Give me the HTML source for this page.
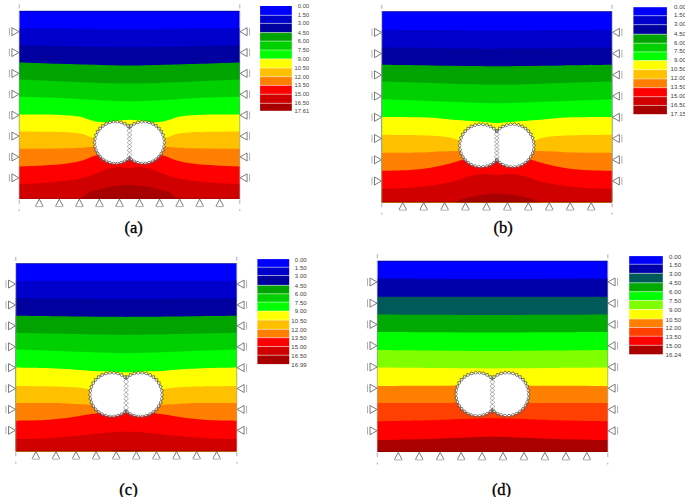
<!DOCTYPE html>
<html><head><meta charset="utf-8"><style>
html,body{margin:0;padding:0;background:#fff;}
svg{display:block;}
.lb{font-family:"Liberation Sans",sans-serif;font-size:5.8px;fill:#404040;letter-spacing:0.1px;}
.cap{font-family:"Liberation Serif",serif;font-size:16.5px;fill:#000;stroke:#000;stroke-width:0.35px;}
</style></head><body>
<svg width="685" height="497" viewBox="0 0 685 497">
<rect width="685" height="497" fill="#fff"/>
<clipPath id="clip0"><rect x="19.20" y="10.80" width="220.60" height="187.90"/></clipPath>
<g clip-path="url(#clip0)">
<rect x="19.20" y="10.80" width="220.60" height="187.90" fill="#0000ff"/>
<path d="M14.20,28.20 C15.00,28.20 11.37,28.15 19.00,28.20 C26.63,28.25 46.50,28.38 60.00,28.50 C73.50,28.62 88.42,28.82 100.00,28.90 C111.58,28.98 119.67,29.00 129.50,29.00 C139.33,29.00 147.42,28.98 159.00,28.90 C170.58,28.82 185.50,28.62 199.00,28.50 C212.50,28.38 232.37,28.25 240.00,28.20 C247.63,28.15 244.00,28.20 244.80,28.20 L244.80,208.70 L14.20,208.70 Z" fill="#0000cc"/>
<path d="M14.20,45.30 C15.00,45.30 11.37,45.15 19.00,45.30 C26.63,45.45 46.50,45.92 60.00,46.20 C73.50,46.48 88.42,46.82 100.00,47.00 C111.58,47.18 119.67,47.30 129.50,47.30 C139.33,47.30 147.42,47.18 159.00,47.00 C170.58,46.82 185.50,46.48 199.00,46.20 C212.50,45.92 232.37,45.45 240.00,45.30 C247.63,45.15 244.00,45.30 244.80,45.30 L244.80,208.70 L14.20,208.70 Z" fill="#00009e"/>
<path d="M14.20,62.40 C15.00,62.40 11.37,62.18 19.00,62.40 C26.63,62.62 46.50,63.28 60.00,63.70 C73.50,64.12 88.42,64.62 100.00,64.90 C111.58,65.18 119.67,65.40 129.50,65.40 C139.33,65.40 147.42,65.18 159.00,64.90 C170.58,64.62 185.50,64.12 199.00,63.70 C212.50,63.28 232.37,62.62 240.00,62.40 C247.63,62.18 244.00,62.40 244.80,62.40 L244.80,208.70 L14.20,208.70 Z" fill="#00a400"/>
<path d="M14.20,79.50 C15.00,79.50 11.37,79.20 19.00,79.50 C26.63,79.80 46.50,80.73 60.00,81.30 C73.50,81.87 88.42,82.53 100.00,82.90 C111.58,83.27 119.67,83.50 129.50,83.50 C139.33,83.50 147.42,83.27 159.00,82.90 C170.58,82.53 185.50,81.87 199.00,81.30 C212.50,80.73 232.37,79.80 240.00,79.50 C247.63,79.20 244.00,79.50 244.80,79.50 L244.80,208.70 L14.20,208.70 Z" fill="#00d000"/>
<path d="M14.20,96.70 C15.00,96.70 11.37,96.48 19.00,96.70 C26.63,96.92 46.50,97.40 60.00,98.00 C73.50,98.60 88.42,99.75 100.00,100.30 C111.58,100.85 119.67,101.30 129.50,101.30 C139.33,101.30 147.42,100.85 159.00,100.30 C170.58,99.75 185.50,98.60 199.00,98.00 C212.50,97.40 232.37,96.92 240.00,96.70 C247.63,96.48 244.00,96.70 244.80,96.70 L244.80,208.70 L14.20,208.70 Z" fill="#00ff00"/>
<path d="M14.20,114.40 C15.00,114.40 13.03,114.37 19.00,114.40 C24.97,114.43 41.50,114.40 50.00,114.60 C58.50,114.80 64.67,115.17 70.00,115.60 C75.33,116.03 78.33,116.38 82.00,117.20 C85.67,118.02 88.50,119.65 92.00,120.50 C95.50,121.35 99.17,122.22 103.00,122.30 C106.83,122.38 111.83,121.33 115.00,121.00 C118.17,120.67 119.58,120.50 122.00,120.30 C124.42,120.10 127.00,119.80 129.50,119.80 C132.00,119.80 134.58,120.10 137.00,120.30 C139.42,120.50 140.83,120.67 144.00,121.00 C147.17,121.33 152.17,122.38 156.00,122.30 C159.83,122.22 163.50,121.35 167.00,120.50 C170.50,119.65 173.33,118.02 177.00,117.20 C180.67,116.38 183.67,116.03 189.00,115.60 C194.33,115.17 200.50,114.80 209.00,114.60 C217.50,114.40 234.03,114.43 240.00,114.40 C245.97,114.37 244.00,114.40 244.80,114.40 L244.80,208.70 L14.20,208.70 Z" fill="#ffff00"/>
<path d="M14.20,131.50 C15.00,131.50 11.37,131.42 19.00,131.50 C26.63,131.58 49.83,131.67 60.00,132.00 C70.17,132.33 74.67,132.58 80.00,133.50 C85.33,134.42 87.00,136.08 92.00,137.50 C97.00,138.92 103.75,141.08 110.00,142.00 C116.25,142.92 123.00,143.00 129.50,143.00 C136.00,143.00 142.75,142.92 149.00,142.00 C155.25,141.08 162.00,138.92 167.00,137.50 C172.00,136.08 173.67,134.42 179.00,133.50 C184.33,132.58 188.83,132.33 199.00,132.00 C209.17,131.67 232.37,131.58 240.00,131.50 C247.63,131.42 244.00,131.50 244.80,131.50 L244.80,208.70 L14.20,208.70 Z" fill="#ffc000"/>
<path d="M14.20,148.80 C15.00,148.80 11.37,148.85 19.00,148.80 C26.63,148.75 49.83,148.67 60.00,148.50 C70.17,148.33 74.33,148.05 80.00,147.80 C85.67,147.55 89.00,146.63 94.00,147.00 C99.00,147.37 104.08,149.17 110.00,150.00 C115.92,150.83 123.00,152.00 129.50,152.00 C136.00,152.00 143.08,150.83 149.00,150.00 C154.92,149.17 160.00,147.37 165.00,147.00 C170.00,146.63 173.33,147.55 179.00,147.80 C184.67,148.05 188.83,148.33 199.00,148.50 C209.17,148.67 232.37,148.75 240.00,148.80 C247.63,148.85 244.00,148.80 244.80,148.80 L244.80,208.70 L14.20,208.70 Z" fill="#ff8000"/>
<path d="M14.20,166.40 C15.00,166.40 14.20,166.57 19.00,166.40 C23.80,166.23 35.00,165.90 43.00,165.40 C51.00,164.90 60.17,164.32 67.00,163.40 C73.83,162.48 79.33,161.17 84.00,159.90 C88.67,158.63 90.67,156.62 95.00,155.80 C99.33,154.98 104.25,155.13 110.00,155.00 C115.75,154.87 123.00,155.00 129.50,155.00 C136.00,155.00 143.25,154.87 149.00,155.00 C154.75,155.13 159.67,154.98 164.00,155.80 C168.33,156.62 170.33,158.63 175.00,159.90 C179.67,161.17 185.17,162.48 192.00,163.40 C198.83,164.32 208.00,164.90 216.00,165.40 C224.00,165.90 235.20,166.23 240.00,166.40 C244.80,166.57 244.00,166.40 244.80,166.40 L244.80,208.70 L14.20,208.70 Z" fill="#ff0000"/>
<path d="M14.20,184.00 C15.00,184.00 14.20,184.17 19.00,184.00 C23.80,183.83 35.00,183.60 43.00,183.00 C51.00,182.40 60.17,181.33 67.00,180.40 C73.83,179.47 78.50,178.80 84.00,177.40 C89.50,176.00 96.08,173.45 100.00,172.00 C103.92,170.55 104.33,169.55 107.50,168.70 C110.67,167.85 115.33,167.02 119.00,166.90 C122.67,166.78 126.00,168.00 129.50,168.00 C133.00,168.00 136.33,166.78 140.00,166.90 C143.67,167.02 148.33,167.85 151.50,168.70 C154.67,169.55 155.08,170.55 159.00,172.00 C162.92,173.45 169.50,176.00 175.00,177.40 C180.50,178.80 185.17,179.47 192.00,180.40 C198.83,181.33 208.00,182.40 216.00,183.00 C224.00,183.60 235.20,183.83 240.00,184.00 C244.80,184.17 244.00,184.00 244.80,184.00 L244.80,208.70 L14.20,208.70 Z" fill="#d00000"/>
<path d="M14.20,203.00 C15.00,203.00 9.70,203.17 19.00,203.00 C28.30,202.83 59.83,202.72 70.00,202.00 C80.17,201.28 77.50,199.70 80.00,198.70 C82.50,197.70 83.33,197.12 85.00,196.00 C86.67,194.88 87.50,193.08 90.00,192.00 C92.50,190.92 96.67,190.33 100.00,189.50 C103.33,188.67 105.08,187.75 110.00,187.00 C114.92,186.25 123.00,185.00 129.50,185.00 C136.00,185.00 144.08,186.25 149.00,187.00 C153.92,187.75 155.67,188.67 159.00,189.50 C162.33,190.33 166.50,190.92 169.00,192.00 C171.50,193.08 172.33,194.88 174.00,196.00 C175.67,197.12 176.50,197.70 179.00,198.70 C181.50,199.70 178.83,201.28 189.00,202.00 C199.17,202.72 230.70,202.83 240.00,203.00 C249.30,203.17 244.00,203.00 244.80,203.00 L244.80,208.70 L14.20,208.70 Z" fill="#a80000"/>
</g>
<g>
<circle cx="115.50" cy="142.60" r="21.20" fill="#fff"/>
<circle cx="143.50" cy="142.60" r="21.20" fill="#fff"/>
<path d="M138.20,142.60 L134.47,146.15 L136.67,150.80 L131.91,152.76 L132.28,157.89 L127.13,158.00 L125.62,162.92 L120.78,161.16 L117.59,165.20 L113.72,161.82 L109.29,164.43 L106.90,159.88 L101.82,160.71 L101.24,155.60 L96.20,154.55 L97.50,149.57 L93.19,146.77 L96.20,142.60 L93.19,138.43 L97.50,135.63 L96.20,130.65 L101.24,129.60 L101.82,124.49 L106.90,125.32 L109.29,120.77 L113.72,123.38 L117.59,120.00 L120.78,124.04 L125.62,122.28 L127.13,127.20 L132.28,127.31 L131.91,132.44 L136.67,134.40 L134.47,139.05 L138.20,142.60" fill="none" stroke="#5e5e5e" stroke-width="0.8"/>
<path d="M134.80,142.60 L137.81,146.77 L133.50,149.57 L134.80,154.55 L129.76,155.60 L129.18,160.71 L124.10,159.88 L121.71,164.43 L117.28,161.82 L113.41,165.20 L110.22,161.16 L105.38,162.92 L103.87,158.00 L98.72,157.89 L99.09,152.76 L94.33,150.80 L96.53,146.15 L92.80,142.60 L96.53,139.05 L94.33,134.40 L99.09,132.44 L98.72,127.31 L103.87,127.20 L105.38,122.28 L110.22,124.04 L113.41,120.00 L117.28,123.38 L121.71,120.77 L124.10,125.32 L129.18,124.49 L129.76,129.60 L134.80,130.65 L133.50,135.63 L137.81,138.43 L134.80,142.60" fill="none" stroke="#5e5e5e" stroke-width="0.8"/>
<path d="M166.20,142.60 L162.47,146.15 L164.67,150.80 L159.91,152.76 L160.28,157.89 L155.13,158.00 L153.62,162.92 L148.78,161.16 L145.59,165.20 L141.72,161.82 L137.29,164.43 L134.90,159.88 L129.82,160.71 L129.24,155.60 L124.20,154.55 L125.50,149.57 L121.19,146.77 L124.20,142.60 L121.19,138.43 L125.50,135.63 L124.20,130.65 L129.24,129.60 L129.82,124.49 L134.90,125.32 L137.29,120.77 L141.72,123.38 L145.59,120.00 L148.78,124.04 L153.62,122.28 L155.13,127.20 L160.28,127.31 L159.91,132.44 L164.67,134.40 L162.47,139.05 L166.20,142.60" fill="none" stroke="#5e5e5e" stroke-width="0.8"/>
<path d="M162.80,142.60 L165.81,146.77 L161.50,149.57 L162.80,154.55 L157.76,155.60 L157.18,160.71 L152.10,159.88 L149.71,164.43 L145.28,161.82 L141.41,165.20 L138.22,161.16 L133.38,162.92 L131.87,158.00 L126.72,157.89 L127.09,152.76 L122.33,150.80 L124.53,146.15 L120.80,142.60 L124.53,139.05 L122.33,134.40 L127.09,132.44 L126.72,127.31 L131.87,127.20 L133.38,122.28 L138.22,124.04 L141.41,120.00 L145.28,123.38 L149.71,120.77 L152.10,125.32 L157.18,124.49 L157.76,129.60 L162.80,130.65 L161.50,135.63 L165.81,138.43 L162.80,142.60" fill="none" stroke="#5e5e5e" stroke-width="0.8"/>
<circle cx="115.50" cy="142.60" r="19.00" fill="#fff"/>
<circle cx="143.50" cy="142.60" r="19.00" fill="#fff"/>
<path d="M129.50,126.95 L131.90,130.86 L127.10,134.77 L131.90,138.69 L127.10,142.60 L131.90,146.51 L127.10,150.43 L131.90,154.34 L129.50,158.25" fill="none" stroke="#808080" stroke-width="0.6"/>
<path d="M129.50,126.95 L127.10,130.86 L131.90,134.77 L127.10,138.69 L131.90,142.60 L127.10,146.51 L131.90,150.43 L127.10,154.34 L129.50,158.25" fill="none" stroke="#808080" stroke-width="0.6"/>
</g>
<path d="M18.90,31.68 L11.90,27.68 L11.90,35.68 Z M240.10,31.68 L247.10,27.68 L247.10,35.68 Z M18.90,52.56 L11.90,48.56 L11.90,56.56 Z M240.10,52.56 L247.10,48.56 L247.10,56.56 Z M18.90,73.43 L11.90,69.43 L11.90,77.43 Z M240.10,73.43 L247.10,69.43 L247.10,77.43 Z M18.90,94.31 L11.90,90.31 L11.90,98.31 Z M240.10,94.31 L247.10,90.31 L247.10,98.31 Z M18.90,115.19 L11.90,111.19 L11.90,119.19 Z M240.10,115.19 L247.10,111.19 L247.10,119.19 Z M18.90,136.07 L11.90,132.07 L11.90,140.07 Z M240.10,136.07 L247.10,132.07 L247.10,140.07 Z M18.90,156.94 L11.90,152.94 L11.90,160.94 Z M240.10,156.94 L247.10,152.94 L247.10,160.94 Z M18.90,177.82 L11.90,173.82 L11.90,181.82 Z M240.10,177.82 L247.10,173.82 L247.10,181.82 Z M35.45,206.20 L39.25,199.10 M39.25,199.10 L43.05,206.20 M55.51,206.20 L59.31,199.10 M59.31,199.10 L63.11,206.20 M75.56,206.20 L79.36,199.10 M79.36,199.10 L83.16,206.20 M95.62,206.20 L99.42,199.10 M99.42,199.10 L103.22,206.20 M115.67,206.20 L119.47,199.10 M119.47,199.10 L123.27,206.20 M135.73,206.20 L139.53,199.10 M139.53,199.10 L143.33,206.20 M155.78,206.20 L159.58,199.10 M159.58,199.10 L163.38,206.20 M175.84,206.20 L179.64,199.10 M179.64,199.10 L183.44,206.20 M195.89,206.20 L199.69,199.10 M199.69,199.10 L203.49,206.20 M215.95,206.20 L219.75,199.10 M219.75,199.10 L223.55,206.20" fill="#fff" stroke="#5a5a5a" stroke-width="0.8"/>
<path d="M9.40,27.88 L9.40,35.48 M249.60,27.88 L249.60,35.48 M9.40,48.76 L9.40,56.36 M249.60,48.76 L249.60,56.36 M9.40,69.63 L9.40,77.23 M249.60,69.63 L249.60,77.23 M9.40,90.51 L9.40,98.11 M249.60,90.51 L249.60,98.11 M9.40,111.39 L9.40,118.99 M249.60,111.39 L249.60,118.99 M9.40,132.27 L9.40,139.87 M249.60,132.27 L249.60,139.87 M9.40,153.14 L9.40,160.74 M249.60,153.14 L249.60,160.74 M9.40,174.02 L9.40,181.62 M249.60,174.02 L249.60,181.62 M35.45,206.60 L43.05,206.60 M55.51,206.60 L63.11,206.60 M75.56,206.60 L83.16,206.60 M95.62,206.60 L103.22,206.60 M115.67,206.60 L123.27,206.60 M135.73,206.60 L143.33,206.60 M155.78,206.60 L163.38,206.60 M175.84,206.60 L183.44,206.60 M195.89,206.60 L203.49,206.60 M215.95,206.60 L223.55,206.60" fill="none" stroke="#a0a0a0" stroke-width="0.85"/>
<path d="M19.20,4.40 L19.20,8.40 M19.20,199.70 L19.20,203.70 M19.20,209.20 L19.20,211.20 M239.80,4.40 L239.80,8.40 M239.80,199.70 L239.80,203.70 M239.80,209.20 L239.80,211.20" fill="none" stroke="#999999" stroke-width="0.8"/>
<rect x="260.10" y="6.00" width="31.70" height="9.30" fill="#0000ff"/>
<rect x="260.10" y="15.30" width="31.70" height="8.10" fill="#0000cc"/>
<rect x="260.10" y="23.40" width="31.70" height="9.20" fill="#00009e"/>
<rect x="260.10" y="32.60" width="31.70" height="8.50" fill="#00a400"/>
<rect x="260.10" y="41.10" width="31.70" height="8.90" fill="#00d000"/>
<rect x="260.10" y="50.00" width="31.70" height="8.90" fill="#00ff00"/>
<rect x="260.10" y="58.90" width="31.70" height="9.10" fill="#ffff00"/>
<rect x="260.10" y="68.00" width="31.70" height="8.70" fill="#ffc000"/>
<rect x="260.10" y="76.70" width="31.70" height="8.70" fill="#ff8000"/>
<rect x="260.10" y="85.40" width="31.70" height="8.80" fill="#ff0000"/>
<rect x="260.10" y="94.20" width="31.70" height="9.10" fill="#d00000"/>
<rect x="260.10" y="103.30" width="31.70" height="7.50" fill="#a80000"/>
<path d="M260.10,15.30 L291.80,15.30 M260.10,23.40 L291.80,23.40 M260.10,32.60 L291.80,32.60 M260.10,41.10 L291.80,41.10 M260.10,50.00 L291.80,50.00 M260.10,58.90 L291.80,58.90 M260.10,68.00 L291.80,68.00 M260.10,76.70 L291.80,76.70 M260.10,85.40 L291.80,85.40 M260.10,94.20 L291.80,94.20 M260.10,103.30 L291.80,103.30" stroke="#ffffff" stroke-opacity="0.5" stroke-width="0.9"/>
<text x="309.20" y="8.05" text-anchor="end" class="lb" style="font-size:5.70px">0.00</text>
<text x="309.20" y="17.35" text-anchor="end" class="lb" style="font-size:5.70px">1.50</text>
<text x="309.20" y="25.45" text-anchor="end" class="lb" style="font-size:5.70px">3.00</text>
<text x="309.20" y="34.65" text-anchor="end" class="lb" style="font-size:5.70px">4.50</text>
<text x="309.20" y="43.15" text-anchor="end" class="lb" style="font-size:5.70px">6.00</text>
<text x="309.20" y="52.05" text-anchor="end" class="lb" style="font-size:5.70px">7.50</text>
<text x="309.20" y="60.95" text-anchor="end" class="lb" style="font-size:5.70px">9.00</text>
<text x="309.20" y="70.05" text-anchor="end" class="lb" style="font-size:5.70px">10.50</text>
<text x="309.20" y="78.75" text-anchor="end" class="lb" style="font-size:5.70px">12.00</text>
<text x="309.20" y="87.45" text-anchor="end" class="lb" style="font-size:5.70px">13.50</text>
<text x="309.20" y="96.25" text-anchor="end" class="lb" style="font-size:5.70px">15.00</text>
<text x="309.20" y="105.35" text-anchor="end" class="lb" style="font-size:5.70px">16.50</text>
<text x="309.20" y="112.85" text-anchor="end" class="lb" style="font-size:5.70px">17.61</text>
<path d="M19.20,198.30 L239.80,198.30" stroke="#400000" stroke-width="0.8" stroke-opacity="0.35"/>
<path d="M19.20,11.20 L239.80,11.20" stroke="#000050" stroke-width="0.8" stroke-opacity="0.6"/>
<path d="M19.20,10.80 L19.20,198.70 M239.80,10.80 L239.80,198.70" stroke="#9a9a9a" stroke-width="0.8" stroke-opacity="0.8"/>
<text x="133.70" y="232.70" text-anchor="middle" class="cap">(a)</text>
<clipPath id="clip1"><rect x="381.80" y="11.20" width="230.30" height="191.00"/></clipPath>
<g clip-path="url(#clip1)">
<rect x="381.80" y="11.20" width="230.30" height="191.00" fill="#0000ff"/>
<path d="M376.80,29.70 C377.50,29.70 372.13,29.65 381.00,29.70 C389.87,29.75 415.17,29.92 430.00,30.00 C444.83,30.08 458.84,30.15 470.00,30.20 C481.16,30.25 487.97,30.30 496.95,30.30 C505.93,30.30 512.74,30.25 523.90,30.20 C535.06,30.15 549.07,30.08 563.90,30.00 C578.73,29.92 604.03,29.75 612.90,29.70 C621.77,29.65 616.40,29.70 617.10,29.70 L617.10,212.20 L376.80,212.20 Z" fill="#0000cc"/>
<path d="M376.80,47.20 C377.50,47.20 372.13,47.08 381.00,47.20 C389.87,47.32 415.17,47.70 430.00,47.90 C444.83,48.10 458.84,48.27 470.00,48.40 C481.16,48.53 487.97,48.70 496.95,48.70 C505.93,48.70 512.74,48.53 523.90,48.40 C535.06,48.27 549.07,48.10 563.90,47.90 C578.73,47.70 604.03,47.32 612.90,47.20 C621.77,47.08 616.40,47.20 617.10,47.20 L617.10,212.20 L376.80,212.20 Z" fill="#00009e"/>
<path d="M376.80,64.80 C377.50,64.80 372.13,64.70 381.00,64.80 C389.87,64.90 415.17,65.20 430.00,65.40 C444.83,65.60 458.84,65.87 470.00,66.00 C481.16,66.13 487.97,66.20 496.95,66.20 C505.93,66.20 512.74,66.13 523.90,66.00 C535.06,65.87 549.07,65.60 563.90,65.40 C578.73,65.20 604.03,64.90 612.90,64.80 C621.77,64.70 616.40,64.80 617.10,64.80 L617.10,212.20 L376.80,212.20 Z" fill="#00a400"/>
<path d="M376.80,81.60 C377.50,81.60 372.13,81.37 381.00,81.60 C389.87,81.83 415.17,82.57 430.00,83.00 C444.83,83.43 458.84,83.90 470.00,84.20 C481.16,84.50 487.97,84.80 496.95,84.80 C505.93,84.80 512.74,84.50 523.90,84.20 C535.06,83.90 549.07,83.43 563.90,83.00 C578.73,82.57 604.03,81.83 612.90,81.60 C621.77,81.37 616.40,81.60 617.10,81.60 L617.10,212.20 L376.80,212.20 Z" fill="#00d000"/>
<path d="M376.80,99.20 C377.50,99.20 372.13,98.90 381.00,99.20 C389.87,99.50 415.17,100.45 430.00,101.00 C444.83,101.55 458.84,102.13 470.00,102.50 C481.16,102.87 487.97,103.20 496.95,103.20 C505.93,103.20 512.74,102.87 523.90,102.50 C535.06,102.13 549.07,101.55 563.90,101.00 C578.73,100.45 604.03,99.50 612.90,99.20 C621.77,98.90 616.40,99.20 617.10,99.20 L617.10,212.20 L376.80,212.20 Z" fill="#00ff00"/>
<path d="M376.80,117.00 C377.50,117.00 373.80,116.95 381.00,117.00 C388.20,117.05 410.17,117.07 420.00,117.30 C429.83,117.53 433.83,117.95 440.00,118.40 C446.17,118.85 451.17,119.52 457.00,120.00 C462.83,120.48 469.83,120.92 475.00,121.30 C480.17,121.68 484.34,122.02 488.00,122.30 C491.66,122.58 493.97,123.00 496.95,123.00 C499.93,123.00 502.24,122.58 505.90,122.30 C509.56,122.02 513.73,121.68 518.90,121.30 C524.07,120.92 531.07,120.48 536.90,120.00 C542.73,119.52 547.73,118.85 553.90,118.40 C560.07,117.95 564.07,117.53 573.90,117.30 C583.73,117.07 605.70,117.05 612.90,117.00 C620.10,116.95 616.40,117.00 617.10,117.00 L617.10,212.20 L376.80,212.20 Z" fill="#ffff00"/>
<path d="M376.80,134.80 C377.50,134.80 373.80,134.72 381.00,134.80 C388.20,134.88 410.17,135.05 420.00,135.30 C429.83,135.55 434.67,135.85 440.00,136.30 C445.33,136.75 448.67,137.22 452.00,138.00 C455.33,138.78 456.17,139.83 460.00,141.00 C463.83,142.17 468.84,144.17 475.00,145.00 C481.16,145.83 489.63,146.00 496.95,146.00 C504.27,146.00 512.74,145.83 518.90,145.00 C525.06,144.17 530.07,142.17 533.90,141.00 C537.73,139.83 538.57,138.78 541.90,138.00 C545.23,137.22 548.57,136.75 553.90,136.30 C559.23,135.85 564.07,135.55 573.90,135.30 C583.73,135.05 605.70,134.88 612.90,134.80 C620.10,134.72 616.40,134.80 617.10,134.80 L617.10,212.20 L376.80,212.20 Z" fill="#ffc000"/>
<path d="M376.80,152.90 C377.50,152.90 373.80,152.97 381.00,152.90 C388.20,152.83 410.17,152.73 420.00,152.50 C429.83,152.27 433.67,151.75 440.00,151.50 C446.33,151.25 452.17,150.75 458.00,151.00 C463.83,151.25 468.51,152.33 475.00,153.00 C481.49,153.67 489.63,155.00 496.95,155.00 C504.27,155.00 512.41,153.67 518.90,153.00 C525.39,152.33 530.07,151.25 535.90,151.00 C541.73,150.75 547.57,151.25 553.90,151.50 C560.23,151.75 564.07,152.27 573.90,152.50 C583.73,152.73 605.70,152.83 612.90,152.90 C620.10,152.97 616.40,152.90 617.10,152.90 L617.10,212.20 L376.80,212.20 Z" fill="#ff8000"/>
<path d="M376.80,170.90 C377.50,170.90 375.47,171.05 381.00,170.90 C386.53,170.75 401.50,170.57 410.00,170.00 C418.50,169.43 425.33,168.58 432.00,167.50 C438.67,166.42 445.00,164.75 450.00,163.50 C455.00,162.25 457.83,160.92 462.00,160.00 C466.17,159.08 469.18,158.33 475.00,158.00 C480.82,157.67 489.63,158.00 496.95,158.00 C504.27,158.00 513.07,157.67 518.90,158.00 C524.73,158.33 527.73,159.08 531.90,160.00 C536.07,160.92 538.90,162.25 543.90,163.50 C548.90,164.75 555.23,166.42 561.90,167.50 C568.57,168.58 575.40,169.43 583.90,170.00 C592.40,170.57 607.37,170.75 612.90,170.90 C618.43,171.05 616.40,170.90 617.10,170.90 L617.10,212.20 L376.80,212.20 Z" fill="#ff0000"/>
<path d="M376.80,188.80 C377.50,188.80 375.47,188.97 381.00,188.80 C386.53,188.63 401.00,188.43 410.00,187.80 C419.00,187.17 427.50,186.13 435.00,185.00 C442.50,183.87 449.17,182.50 455.00,181.00 C460.83,179.50 465.00,177.17 470.00,176.00 C475.00,174.83 480.51,174.17 485.00,174.00 C489.49,173.83 492.97,175.00 496.95,175.00 C500.93,175.00 504.41,173.83 508.90,174.00 C513.39,174.17 518.90,174.83 523.90,176.00 C528.90,177.17 533.07,179.50 538.90,181.00 C544.73,182.50 551.40,183.87 558.90,185.00 C566.40,186.13 574.90,187.17 583.90,187.80 C592.90,188.43 607.37,188.63 612.90,188.80 C618.43,188.97 616.40,188.80 617.10,188.80 L617.10,212.20 L376.80,212.20 Z" fill="#d00000"/>
<path d="M376.80,207.00 C377.50,207.00 370.47,207.17 381.00,207.00 C391.53,206.83 427.67,206.75 440.00,206.00 C452.33,205.25 451.33,203.67 455.00,202.50 C458.67,201.33 458.67,200.08 462.00,199.00 C465.33,197.92 469.18,196.92 475.00,196.00 C480.82,195.08 489.63,193.50 496.95,193.50 C504.27,193.50 513.07,195.08 518.90,196.00 C524.73,196.92 528.57,197.92 531.90,199.00 C535.23,200.08 535.23,201.33 538.90,202.50 C542.57,203.67 541.57,205.25 553.90,206.00 C566.23,206.75 602.37,206.83 612.90,207.00 C623.43,207.17 616.40,207.00 617.10,207.00 L617.10,212.20 L376.80,212.20 Z" fill="#a80000"/>
</g>
<g>
<circle cx="481.00" cy="145.60" r="21.70" fill="#fff"/>
<circle cx="512.60" cy="145.60" r="21.70" fill="#fff"/>
<path d="M504.20,145.60 L500.46,149.24 L502.63,153.98 L497.83,156.02 L498.15,161.23 L492.93,161.40 L491.34,166.37 L486.42,164.64 L483.14,168.70 L479.17,165.32 L474.65,167.91 L472.17,163.32 L467.02,164.11 L466.37,158.94 L461.27,157.81 L462.54,152.75 L458.20,149.86 L461.20,145.60 L458.20,141.34 L462.54,138.45 L461.27,133.39 L466.37,132.26 L467.02,127.09 L472.17,127.88 L474.65,123.29 L479.17,125.88 L483.14,122.50 L486.42,126.56 L491.34,124.83 L492.93,129.80 L498.15,129.97 L497.83,135.18 L502.63,137.22 L500.46,141.96 L504.20,145.60" fill="none" stroke="#5e5e5e" stroke-width="0.8"/>
<path d="M500.80,145.60 L503.80,149.86 L499.46,152.75 L500.73,157.81 L495.63,158.94 L494.98,164.11 L489.83,163.32 L487.35,167.91 L482.83,165.32 L478.86,168.70 L475.58,164.64 L470.66,166.37 L469.07,161.40 L463.85,161.23 L464.17,156.02 L459.37,153.98 L461.54,149.24 L457.80,145.60 L461.54,141.96 L459.37,137.22 L464.17,135.18 L463.85,129.97 L469.07,129.80 L470.66,124.83 L475.58,126.56 L478.86,122.50 L482.83,125.88 L487.35,123.29 L489.83,127.88 L494.98,127.09 L495.63,132.26 L500.73,133.39 L499.46,138.45 L503.80,141.34 L500.80,145.60" fill="none" stroke="#5e5e5e" stroke-width="0.8"/>
<path d="M535.80,145.60 L532.06,149.24 L534.23,153.98 L529.43,156.02 L529.75,161.23 L524.53,161.40 L522.94,166.37 L518.02,164.64 L514.74,168.70 L510.77,165.32 L506.25,167.91 L503.77,163.32 L498.62,164.11 L497.97,158.94 L492.87,157.81 L494.14,152.75 L489.80,149.86 L492.80,145.60 L489.80,141.34 L494.14,138.45 L492.87,133.39 L497.97,132.26 L498.62,127.09 L503.77,127.88 L506.25,123.29 L510.77,125.88 L514.74,122.50 L518.02,126.56 L522.94,124.83 L524.53,129.80 L529.75,129.97 L529.43,135.18 L534.23,137.22 L532.06,141.96 L535.80,145.60" fill="none" stroke="#5e5e5e" stroke-width="0.8"/>
<path d="M532.40,145.60 L535.40,149.86 L531.06,152.75 L532.33,157.81 L527.23,158.94 L526.58,164.11 L521.43,163.32 L518.95,167.91 L514.43,165.32 L510.46,168.70 L507.18,164.64 L502.26,166.37 L500.67,161.40 L495.45,161.23 L495.77,156.02 L490.97,153.98 L493.14,149.24 L489.40,145.60 L493.14,141.96 L490.97,137.22 L495.77,135.18 L495.45,129.97 L500.67,129.80 L502.26,124.83 L507.18,126.56 L510.46,122.50 L514.43,125.88 L518.95,123.29 L521.43,127.88 L526.58,127.09 L527.23,132.26 L532.33,133.39 L531.06,138.45 L535.40,141.34 L532.40,145.60" fill="none" stroke="#5e5e5e" stroke-width="0.8"/>
<circle cx="481.00" cy="145.60" r="19.50" fill="#fff"/>
<circle cx="512.60" cy="145.60" r="19.50" fill="#fff"/>
<path d="M496.80,131.02 L499.20,134.66 L494.40,138.31 L499.20,141.95 L494.40,145.60 L499.20,149.25 L494.40,152.89 L499.20,156.54 L496.80,160.18" fill="none" stroke="#808080" stroke-width="0.6"/>
<path d="M496.80,131.02 L494.40,134.66 L499.20,138.31 L494.40,141.95 L499.20,145.60 L494.40,149.25 L499.20,152.89 L494.40,156.54 L496.80,160.18" fill="none" stroke="#808080" stroke-width="0.6"/>
</g>
<path d="M381.50,32.42 L374.50,28.42 L374.50,36.42 Z M612.40,32.42 L619.40,28.42 L619.40,36.42 Z M381.50,53.64 L374.50,49.64 L374.50,57.64 Z M612.40,53.64 L619.40,49.64 L619.40,57.64 Z M381.50,74.87 L374.50,70.87 L374.50,78.87 Z M612.40,74.87 L619.40,70.87 L619.40,78.87 Z M381.50,96.09 L374.50,92.09 L374.50,100.09 Z M612.40,96.09 L619.40,92.09 L619.40,100.09 Z M381.50,117.31 L374.50,113.31 L374.50,121.31 Z M612.40,117.31 L619.40,113.31 L619.40,121.31 Z M381.50,138.53 L374.50,134.53 L374.50,142.53 Z M612.40,138.53 L619.40,134.53 L619.40,142.53 Z M381.50,159.76 L374.50,155.76 L374.50,163.76 Z M612.40,159.76 L619.40,155.76 L619.40,163.76 Z M381.50,180.98 L374.50,176.98 L374.50,184.98 Z M612.40,180.98 L619.40,176.98 L619.40,184.98 Z M398.94,209.70 L402.74,202.60 M402.74,202.60 L406.54,209.70 M419.87,209.70 L423.67,202.60 M423.67,202.60 L427.47,209.70 M440.81,209.70 L444.61,202.60 M444.61,202.60 L448.41,209.70 M461.75,209.70 L465.55,202.60 M465.55,202.60 L469.35,209.70 M482.68,209.70 L486.48,202.60 M486.48,202.60 L490.28,209.70 M503.62,209.70 L507.42,202.60 M507.42,202.60 L511.22,209.70 M524.55,209.70 L528.35,202.60 M528.35,202.60 L532.15,209.70 M545.49,209.70 L549.29,202.60 M549.29,202.60 L553.09,209.70 M566.43,209.70 L570.23,202.60 M570.23,202.60 L574.03,209.70 M587.36,209.70 L591.16,202.60 M591.16,202.60 L594.96,209.70" fill="#fff" stroke="#5a5a5a" stroke-width="0.8"/>
<path d="M372.00,28.62 L372.00,36.22 M621.90,28.62 L621.90,36.22 M372.00,49.84 L372.00,57.44 M621.90,49.84 L621.90,57.44 M372.00,71.07 L372.00,78.67 M621.90,71.07 L621.90,78.67 M372.00,92.29 L372.00,99.89 M621.90,92.29 L621.90,99.89 M372.00,113.51 L372.00,121.11 M621.90,113.51 L621.90,121.11 M372.00,134.73 L372.00,142.33 M621.90,134.73 L621.90,142.33 M372.00,155.96 L372.00,163.56 M621.90,155.96 L621.90,163.56 M372.00,177.18 L372.00,184.78 M621.90,177.18 L621.90,184.78 M398.94,210.10 L406.54,210.10 M419.87,210.10 L427.47,210.10 M440.81,210.10 L448.41,210.10 M461.75,210.10 L469.35,210.10 M482.68,210.10 L490.28,210.10 M503.62,210.10 L511.22,210.10 M524.55,210.10 L532.15,210.10 M545.49,210.10 L553.09,210.10 M566.43,210.10 L574.03,210.10 M587.36,210.10 L594.96,210.10" fill="none" stroke="#a0a0a0" stroke-width="0.85"/>
<path d="M381.80,4.80 L381.80,8.80 M381.80,203.20 L381.80,207.20 M381.80,212.70 L381.80,214.70 M612.10,4.80 L612.10,8.80 M612.10,203.20 L612.10,207.20 M612.10,212.70 L612.10,214.70" fill="none" stroke="#999999" stroke-width="0.8"/>
<rect x="633.40" y="7.20" width="33.50" height="8.50" fill="#0000ff"/>
<rect x="633.40" y="15.70" width="33.50" height="9.00" fill="#0000cc"/>
<rect x="633.40" y="24.70" width="33.50" height="9.50" fill="#00009e"/>
<rect x="633.40" y="34.20" width="33.50" height="9.00" fill="#00a400"/>
<rect x="633.40" y="43.20" width="33.50" height="8.70" fill="#00d000"/>
<rect x="633.40" y="51.90" width="33.50" height="8.70" fill="#00ff00"/>
<rect x="633.40" y="60.60" width="33.50" height="9.20" fill="#ffff00"/>
<rect x="633.40" y="69.80" width="33.50" height="9.10" fill="#ffc000"/>
<rect x="633.40" y="78.90" width="33.50" height="8.80" fill="#ff8000"/>
<rect x="633.40" y="87.70" width="33.50" height="9.00" fill="#ff0000"/>
<rect x="633.40" y="96.70" width="33.50" height="8.70" fill="#d00000"/>
<rect x="633.40" y="105.40" width="33.50" height="8.80" fill="#a80000"/>
<path d="M633.40,15.70 L666.90,15.70 M633.40,24.70 L666.90,24.70 M633.40,34.20 L666.90,34.20 M633.40,43.20 L666.90,43.20 M633.40,51.90 L666.90,51.90 M633.40,60.60 L666.90,60.60 M633.40,69.80 L666.90,69.80 M633.40,78.90 L666.90,78.90 M633.40,87.70 L666.90,87.70 M633.40,96.70 L666.90,96.70 M633.40,105.40 L666.90,105.40" stroke="#ffffff" stroke-opacity="0.5" stroke-width="0.9"/>
<text x="686.30" y="8.70" text-anchor="end" class="lb" style="font-size:6.10px">0.00</text>
<text x="686.30" y="17.20" text-anchor="end" class="lb" style="font-size:6.10px">1.50</text>
<text x="686.30" y="26.20" text-anchor="end" class="lb" style="font-size:6.10px">3.00</text>
<text x="686.30" y="35.70" text-anchor="end" class="lb" style="font-size:6.10px">4.50</text>
<text x="686.30" y="44.70" text-anchor="end" class="lb" style="font-size:6.10px">6.00</text>
<text x="686.30" y="53.40" text-anchor="end" class="lb" style="font-size:6.10px">7.50</text>
<text x="686.30" y="62.10" text-anchor="end" class="lb" style="font-size:6.10px">9.00</text>
<text x="686.30" y="71.30" text-anchor="end" class="lb" style="font-size:6.10px">10.50</text>
<text x="686.30" y="80.40" text-anchor="end" class="lb" style="font-size:6.10px">12.00</text>
<text x="686.30" y="89.20" text-anchor="end" class="lb" style="font-size:6.10px">13.50</text>
<text x="686.30" y="98.20" text-anchor="end" class="lb" style="font-size:6.10px">15.00</text>
<text x="686.30" y="106.90" text-anchor="end" class="lb" style="font-size:6.10px">16.50</text>
<text x="686.30" y="115.70" text-anchor="end" class="lb" style="font-size:6.10px">17.15</text>
<path d="M381.80,201.80 L612.10,201.80" stroke="#400000" stroke-width="0.8" stroke-opacity="0.35"/>
<path d="M381.80,11.60 L612.10,11.60" stroke="#000050" stroke-width="0.8" stroke-opacity="0.6"/>
<path d="M381.80,11.20 L381.80,202.20 M612.10,11.20 L612.10,202.20" stroke="#9a9a9a" stroke-width="0.8" stroke-opacity="0.8"/>
<text x="503.10" y="233.20" text-anchor="middle" class="cap">(b)</text>
<clipPath id="clip2"><rect x="15.80" y="263.20" width="221.00" height="188.00"/></clipPath>
<g clip-path="url(#clip2)">
<rect x="15.80" y="263.20" width="221.00" height="188.00" fill="#0000ff"/>
<path d="M10.80,280.80 C11.50,280.80 6.80,280.80 15.00,280.80 C23.20,280.80 45.83,280.80 60.00,280.80 C74.17,280.80 88.95,280.80 100.00,280.80 C111.05,280.80 117.53,280.80 126.30,280.80 C135.07,280.80 141.55,280.80 152.60,280.80 C163.65,280.80 178.43,280.80 192.60,280.80 C206.77,280.80 229.40,280.80 237.60,280.80 C245.80,280.80 241.10,280.80 241.80,280.80 L241.80,461.20 L10.80,461.20 Z" fill="#0000cc"/>
<path d="M10.80,298.00 C11.50,298.00 6.80,297.92 15.00,298.00 C23.20,298.08 45.83,298.35 60.00,298.50 C74.17,298.65 88.95,298.82 100.00,298.90 C111.05,298.98 117.53,299.00 126.30,299.00 C135.07,299.00 141.55,298.98 152.60,298.90 C163.65,298.82 178.43,298.65 192.60,298.50 C206.77,298.35 229.40,298.08 237.60,298.00 C245.80,297.92 241.10,298.00 241.80,298.00 L241.80,461.20 L10.80,461.20 Z" fill="#00009e"/>
<path d="M10.80,315.80 C11.50,315.80 6.80,315.72 15.00,315.80 C23.20,315.88 45.83,316.13 60.00,316.30 C74.17,316.47 88.95,316.70 100.00,316.80 C111.05,316.90 117.53,316.90 126.30,316.90 C135.07,316.90 141.55,316.90 152.60,316.80 C163.65,316.70 178.43,316.47 192.60,316.30 C206.77,316.13 229.40,315.88 237.60,315.80 C245.80,315.72 241.10,315.80 241.80,315.80 L241.80,461.20 L10.80,461.20 Z" fill="#00a400"/>
<path d="M10.80,332.80 C11.50,332.80 6.80,332.63 15.00,332.80 C23.20,332.97 45.83,333.50 60.00,333.80 C74.17,334.10 88.95,334.42 100.00,334.60 C111.05,334.78 117.53,334.90 126.30,334.90 C135.07,334.90 141.55,334.78 152.60,334.60 C163.65,334.42 178.43,334.10 192.60,333.80 C206.77,333.50 229.40,332.97 237.60,332.80 C245.80,332.63 241.10,332.80 241.80,332.80 L241.80,461.20 L10.80,461.20 Z" fill="#00d000"/>
<path d="M10.80,349.50 C11.50,349.50 6.80,349.25 15.00,349.50 C23.20,349.75 45.83,350.48 60.00,351.00 C74.17,351.52 88.95,352.23 100.00,352.60 C111.05,352.97 117.53,353.20 126.30,353.20 C135.07,353.20 141.55,352.97 152.60,352.60 C163.65,352.23 178.43,351.52 192.60,351.00 C206.77,350.48 229.40,349.75 237.60,349.50 C245.80,349.25 241.10,349.50 241.80,349.50 L241.80,461.20 L10.80,461.20 Z" fill="#00ff00"/>
<path d="M10.80,367.60 C11.50,367.60 7.63,367.47 15.00,367.60 C22.37,367.73 44.50,368.05 55.00,368.40 C65.50,368.75 71.83,369.27 78.00,369.70 C84.17,370.13 86.67,370.70 92.00,371.00 C97.33,371.30 104.28,371.28 110.00,371.50 C115.72,371.72 120.87,372.30 126.30,372.30 C131.73,372.30 136.88,371.72 142.60,371.50 C148.32,371.28 155.27,371.30 160.60,371.00 C165.93,370.70 168.43,370.13 174.60,369.70 C180.77,369.27 187.10,368.75 197.60,368.40 C208.10,368.05 230.23,367.73 237.60,367.60 C244.97,367.47 241.10,367.60 241.80,367.60 L241.80,461.20 L10.80,461.20 Z" fill="#ffff00"/>
<path d="M10.80,386.00 C11.50,386.00 7.63,385.92 15.00,386.00 C22.37,386.08 44.83,386.25 55.00,386.50 C65.17,386.75 70.03,387.03 76.00,387.50 C81.97,387.97 85.13,388.55 90.80,389.30 C96.47,390.05 104.08,391.38 110.00,392.00 C115.92,392.62 120.87,393.00 126.30,393.00 C131.73,393.00 136.68,392.62 142.60,392.00 C148.52,391.38 156.13,390.05 161.80,389.30 C167.47,388.55 170.63,387.97 176.60,387.50 C182.57,387.03 187.43,386.75 197.60,386.50 C207.77,386.25 230.23,386.08 237.60,386.00 C244.97,385.92 241.10,386.00 241.80,386.00 L241.80,461.20 L10.80,461.20 Z" fill="#ffc000"/>
<path d="M10.80,403.00 C11.50,403.00 7.63,403.00 15.00,403.00 C22.37,403.00 44.83,402.83 55.00,403.00 C65.17,403.17 70.03,403.70 76.00,404.00 C81.97,404.30 85.13,404.30 90.80,404.80 C96.47,405.30 104.08,406.47 110.00,407.00 C115.92,407.53 120.87,408.00 126.30,408.00 C131.73,408.00 136.68,407.53 142.60,407.00 C148.52,406.47 156.13,405.30 161.80,404.80 C167.47,404.30 170.63,404.30 176.60,404.00 C182.57,403.70 187.43,403.17 197.60,403.00 C207.77,402.83 230.23,403.00 237.60,403.00 C244.97,403.00 241.10,403.00 241.80,403.00 L241.80,461.20 L10.80,461.20 Z" fill="#ff8000"/>
<path d="M10.80,420.70 C11.50,420.70 9.30,420.82 15.00,420.70 C20.70,420.58 35.83,420.53 45.00,420.00 C54.17,419.47 63.33,418.33 70.00,417.50 C76.67,416.67 80.33,415.75 85.00,415.00 C89.67,414.25 93.83,414.00 98.00,413.00 C102.17,412.00 105.28,409.75 110.00,409.00 C114.72,408.25 120.87,408.50 126.30,408.50 C131.73,408.50 137.88,408.25 142.60,409.00 C147.32,409.75 150.43,412.00 154.60,413.00 C158.77,414.00 162.93,414.25 167.60,415.00 C172.27,415.75 175.93,416.67 182.60,417.50 C189.27,418.33 198.43,419.47 207.60,420.00 C216.77,420.53 231.90,420.58 237.60,420.70 C243.30,420.82 241.10,420.70 241.80,420.70 L241.80,461.20 L10.80,461.20 Z" fill="#ff0000"/>
<path d="M10.80,439.10 C11.50,439.10 10.13,439.20 15.00,439.10 C19.87,439.00 30.83,438.93 40.00,438.50 C49.17,438.07 60.00,437.38 70.00,436.50 C80.00,435.62 90.62,434.05 100.00,433.20 C109.38,432.35 117.53,431.40 126.30,431.40 C135.07,431.40 143.22,432.35 152.60,433.20 C161.98,434.05 172.60,435.62 182.60,436.50 C192.60,437.38 203.43,438.07 212.60,438.50 C221.77,438.93 232.73,439.00 237.60,439.10 C242.47,439.20 241.10,439.10 241.80,439.10 L241.80,461.20 L10.80,461.20 Z" fill="#d00000"/>
<path d="M10.80,460.00 C11.50,460.00 0.13,460.00 15.00,460.00 C29.87,460.00 83.83,461.42 100.00,460.00 C116.17,458.58 109.00,453.12 112.00,451.50 C115.00,449.88 115.62,450.57 118.00,450.30 C120.38,450.03 123.53,449.90 126.30,449.90 C129.07,449.90 132.22,450.03 134.60,450.30 C136.98,450.57 137.60,449.88 140.60,451.50 C143.60,453.12 136.43,458.58 152.60,460.00 C168.77,461.42 222.73,460.00 237.60,460.00 C252.47,460.00 241.10,460.00 241.80,460.00 L241.80,461.20 L10.80,461.20 Z" fill="#a80000"/>
</g>
<g>
<circle cx="111.85" cy="394.60" r="22.20" fill="#fff"/>
<circle cx="140.25" cy="394.60" r="22.20" fill="#fff"/>
<path d="M135.55,394.60 L131.80,398.33 L133.95,403.16 L129.11,405.29 L129.36,410.57 L124.08,410.80 L122.41,415.82 L117.41,414.13 L114.04,418.20 L109.98,414.81 L105.36,417.40 L102.80,412.77 L97.57,413.51 L96.85,408.28 L91.70,407.08 L92.92,401.93 L88.55,398.95 L91.55,394.60 L88.55,390.25 L92.92,387.27 L91.70,382.12 L96.85,380.92 L97.57,375.69 L102.80,376.43 L105.36,371.80 L109.98,374.39 L114.04,371.00 L117.41,375.07 L122.41,373.38 L124.08,378.40 L129.36,378.63 L129.11,383.91 L133.95,386.04 L131.80,390.87 L135.55,394.60" fill="none" stroke="#5e5e5e" stroke-width="0.8"/>
<path d="M132.15,394.60 L135.15,398.95 L130.78,401.93 L132.00,407.08 L126.85,408.28 L126.13,413.51 L120.90,412.77 L118.34,417.40 L113.72,414.81 L109.66,418.20 L106.29,414.13 L101.29,415.82 L99.62,410.80 L94.34,410.57 L94.59,405.29 L89.75,403.16 L91.90,398.33 L88.15,394.60 L91.90,390.87 L89.75,386.04 L94.59,383.91 L94.34,378.63 L99.62,378.40 L101.29,373.38 L106.29,375.07 L109.66,371.00 L113.72,374.39 L118.34,371.80 L120.90,376.43 L126.13,375.69 L126.85,380.92 L132.00,382.12 L130.78,387.27 L135.15,390.25 L132.15,394.60" fill="none" stroke="#5e5e5e" stroke-width="0.8"/>
<path d="M163.95,394.60 L160.20,398.33 L162.35,403.16 L157.51,405.29 L157.76,410.57 L152.48,410.80 L150.81,415.82 L145.81,414.13 L142.44,418.20 L138.38,414.81 L133.76,417.40 L131.20,412.77 L125.97,413.51 L125.25,408.28 L120.10,407.08 L121.32,401.93 L116.95,398.95 L119.95,394.60 L116.95,390.25 L121.32,387.27 L120.10,382.12 L125.25,380.92 L125.97,375.69 L131.20,376.43 L133.76,371.80 L138.38,374.39 L142.44,371.00 L145.81,375.07 L150.81,373.38 L152.48,378.40 L157.76,378.63 L157.51,383.91 L162.35,386.04 L160.20,390.87 L163.95,394.60" fill="none" stroke="#5e5e5e" stroke-width="0.8"/>
<path d="M160.55,394.60 L163.55,398.95 L159.18,401.93 L160.40,407.08 L155.25,408.28 L154.53,413.51 L149.30,412.77 L146.74,417.40 L142.12,414.81 L138.06,418.20 L134.69,414.13 L129.69,415.82 L128.02,410.80 L122.74,410.57 L122.99,405.29 L118.15,403.16 L120.30,398.33 L116.55,394.60 L120.30,390.87 L118.15,386.04 L122.99,383.91 L122.74,378.63 L128.02,378.40 L129.69,373.38 L134.69,375.07 L138.06,371.00 L142.12,374.39 L146.74,371.80 L149.30,376.43 L154.53,375.69 L155.25,380.92 L160.40,382.12 L159.18,387.27 L163.55,390.25 L160.55,394.60" fill="none" stroke="#5e5e5e" stroke-width="0.8"/>
<circle cx="111.85" cy="394.60" r="20.00" fill="#fff"/>
<circle cx="140.25" cy="394.60" r="20.00" fill="#fff"/>
<path d="M126.05,377.80 L128.45,382.00 L123.65,386.20 L128.45,390.40 L123.65,394.60 L128.45,398.80 L123.65,403.00 L128.45,407.20 L126.05,411.40" fill="none" stroke="#808080" stroke-width="0.6"/>
<path d="M126.05,377.80 L123.65,382.00 L128.45,386.20 L123.65,390.40 L128.45,394.60 L123.65,398.80 L128.45,403.00 L123.65,407.20 L126.05,411.40" fill="none" stroke="#808080" stroke-width="0.6"/>
</g>
<path d="M15.50,284.09 L8.50,280.09 L8.50,288.09 Z M237.10,284.09 L244.10,280.09 L244.10,288.09 Z M15.50,304.98 L8.50,300.98 L8.50,308.98 Z M237.10,304.98 L244.10,300.98 L244.10,308.98 Z M15.50,325.87 L8.50,321.87 L8.50,329.87 Z M237.10,325.87 L244.10,321.87 L244.10,329.87 Z M15.50,346.76 L8.50,342.76 L8.50,350.76 Z M237.10,346.76 L244.10,342.76 L244.10,350.76 Z M15.50,367.64 L8.50,363.64 L8.50,371.64 Z M237.10,367.64 L244.10,363.64 L244.10,371.64 Z M15.50,388.53 L8.50,384.53 L8.50,392.53 Z M237.10,388.53 L244.10,384.53 L244.10,392.53 Z M15.50,409.42 L8.50,405.42 L8.50,413.42 Z M237.10,409.42 L244.10,405.42 L244.10,413.42 Z M15.50,430.31 L8.50,426.31 L8.50,434.31 Z M237.10,430.31 L244.10,426.31 L244.10,434.31 Z M32.09,458.70 L35.89,451.60 M35.89,451.60 L39.69,458.70 M52.18,458.70 L55.98,451.60 M55.98,451.60 L59.78,458.70 M72.27,458.70 L76.07,451.60 M76.07,451.60 L79.87,458.70 M92.36,458.70 L96.16,451.60 M96.16,451.60 L99.96,458.70 M112.45,458.70 L116.25,451.60 M116.25,451.60 L120.05,458.70 M132.55,458.70 L136.35,451.60 M136.35,451.60 L140.15,458.70 M152.64,458.70 L156.44,451.60 M156.44,451.60 L160.24,458.70 M172.73,458.70 L176.53,451.60 M176.53,451.60 L180.33,458.70 M192.82,458.70 L196.62,451.60 M196.62,451.60 L200.42,458.70 M212.91,458.70 L216.71,451.60 M216.71,451.60 L220.51,458.70" fill="#fff" stroke="#5a5a5a" stroke-width="0.8"/>
<path d="M6.00,280.29 L6.00,287.89 M246.60,280.29 L246.60,287.89 M6.00,301.18 L6.00,308.78 M246.60,301.18 L246.60,308.78 M6.00,322.07 L6.00,329.67 M246.60,322.07 L246.60,329.67 M6.00,342.96 L6.00,350.56 M246.60,342.96 L246.60,350.56 M6.00,363.84 L6.00,371.44 M246.60,363.84 L246.60,371.44 M6.00,384.73 L6.00,392.33 M246.60,384.73 L246.60,392.33 M6.00,405.62 L6.00,413.22 M246.60,405.62 L246.60,413.22 M6.00,426.51 L6.00,434.11 M246.60,426.51 L246.60,434.11 M32.09,459.10 L39.69,459.10 M52.18,459.10 L59.78,459.10 M72.27,459.10 L79.87,459.10 M92.36,459.10 L99.96,459.10 M112.45,459.10 L120.05,459.10 M132.55,459.10 L140.15,459.10 M152.64,459.10 L160.24,459.10 M172.73,459.10 L180.33,459.10 M192.82,459.10 L200.42,459.10 M212.91,459.10 L220.51,459.10" fill="none" stroke="#a0a0a0" stroke-width="0.85"/>
<path d="M15.80,256.80 L15.80,260.80 M15.80,452.20 L15.80,456.20 M15.80,461.70 L15.80,463.70 M236.80,256.80 L236.80,260.80 M236.80,452.20 L236.80,456.20 M236.80,461.70 L236.80,463.70" fill="none" stroke="#999999" stroke-width="0.8"/>
<rect x="257.40" y="259.10" width="31.80" height="8.10" fill="#0000ff"/>
<rect x="257.40" y="267.20" width="31.80" height="8.30" fill="#0000cc"/>
<rect x="257.40" y="275.50" width="31.80" height="9.80" fill="#00009e"/>
<rect x="257.40" y="285.30" width="31.80" height="8.50" fill="#00a400"/>
<rect x="257.40" y="293.80" width="31.80" height="8.30" fill="#00d000"/>
<rect x="257.40" y="302.10" width="31.80" height="8.90" fill="#00ff00"/>
<rect x="257.40" y="311.00" width="31.80" height="9.10" fill="#ffff00"/>
<rect x="257.40" y="320.10" width="31.80" height="9.20" fill="#ffc000"/>
<rect x="257.40" y="329.30" width="31.80" height="8.40" fill="#ff8000"/>
<rect x="257.40" y="337.70" width="31.80" height="8.80" fill="#ff0000"/>
<rect x="257.40" y="346.50" width="31.80" height="8.70" fill="#d00000"/>
<rect x="257.40" y="355.20" width="31.80" height="8.90" fill="#a80000"/>
<path d="M257.40,267.20 L289.20,267.20 M257.40,275.50 L289.20,275.50 M257.40,285.30 L289.20,285.30 M257.40,293.80 L289.20,293.80 M257.40,302.10 L289.20,302.10 M257.40,311.00 L289.20,311.00 M257.40,320.10 L289.20,320.10 M257.40,329.30 L289.20,329.30 M257.40,337.70 L289.20,337.70 M257.40,346.50 L289.20,346.50 M257.40,355.20 L289.20,355.20" stroke="#ffffff" stroke-opacity="0.5" stroke-width="0.9"/>
<text x="306.80" y="261.56" text-anchor="end" class="lb" style="font-size:6.00px">0.00</text>
<text x="306.80" y="269.66" text-anchor="end" class="lb" style="font-size:6.00px">1.50</text>
<text x="306.80" y="277.96" text-anchor="end" class="lb" style="font-size:6.00px">3.00</text>
<text x="306.80" y="287.76" text-anchor="end" class="lb" style="font-size:6.00px">4.50</text>
<text x="306.80" y="296.26" text-anchor="end" class="lb" style="font-size:6.00px">6.00</text>
<text x="306.80" y="304.56" text-anchor="end" class="lb" style="font-size:6.00px">7.50</text>
<text x="306.80" y="313.46" text-anchor="end" class="lb" style="font-size:6.00px">9.00</text>
<text x="306.80" y="322.56" text-anchor="end" class="lb" style="font-size:6.00px">10.50</text>
<text x="306.80" y="331.76" text-anchor="end" class="lb" style="font-size:6.00px">12.00</text>
<text x="306.80" y="340.16" text-anchor="end" class="lb" style="font-size:6.00px">13.50</text>
<text x="306.80" y="348.96" text-anchor="end" class="lb" style="font-size:6.00px">15.00</text>
<text x="306.80" y="357.66" text-anchor="end" class="lb" style="font-size:6.00px">16.50</text>
<text x="306.80" y="366.56" text-anchor="end" class="lb" style="font-size:6.00px">16.99</text>
<path d="M15.80,450.80 L236.80,450.80" stroke="#400000" stroke-width="0.8" stroke-opacity="0.35"/>
<path d="M15.80,263.60 L236.80,263.60" stroke="#000050" stroke-width="0.8" stroke-opacity="0.6"/>
<path d="M15.80,263.20 L15.80,451.20 M236.80,263.20 L236.80,451.20" stroke="#9a9a9a" stroke-width="0.8" stroke-opacity="0.8"/>
<text x="128.50" y="495.00" text-anchor="middle" class="cap">(c)</text>
<clipPath id="clip3"><rect x="377.30" y="260.70" width="230.50" height="191.30"/></clipPath>
<g clip-path="url(#clip3)">
<rect x="377.30" y="260.70" width="230.50" height="191.30" fill="#0000ff"/>
<path d="M372.30,278.60 C373.08,278.60 367.38,278.57 377.00,278.60 C386.62,278.63 410.74,278.72 430.00,278.80 C449.26,278.88 471.70,279.10 492.55,279.10 C513.40,279.10 535.84,278.88 555.10,278.80 C574.36,278.72 598.48,278.63 608.10,278.60 C617.72,278.57 612.02,278.60 612.80,278.60 L612.80,462.00 L372.30,462.00 Z" fill="#0000aa"/>
<path d="M372.30,296.80 C373.08,296.80 367.38,296.80 377.00,296.80 C386.62,296.80 410.74,296.80 430.00,296.80 C449.26,296.80 471.70,296.80 492.55,296.80 C513.40,296.80 535.84,296.80 555.10,296.80 C574.36,296.80 598.48,296.80 608.10,296.80 C617.72,296.80 612.02,296.80 612.80,296.80 L612.80,462.00 L372.30,462.00 Z" fill="#005a5a"/>
<path d="M372.30,314.50 C373.08,314.50 367.38,314.45 377.00,314.50 C386.62,314.55 410.74,314.72 430.00,314.80 C449.26,314.88 471.70,315.00 492.55,315.00 C513.40,315.00 535.84,314.88 555.10,314.80 C574.36,314.72 598.48,314.55 608.10,314.50 C617.72,314.45 612.02,314.50 612.80,314.50 L612.80,462.00 L372.30,462.00 Z" fill="#00aa00"/>
<path d="M372.30,332.10 C373.08,332.10 367.38,332.07 377.00,332.10 C386.62,332.13 410.74,332.23 430.00,332.30 C449.26,332.37 471.70,332.50 492.55,332.50 C513.40,332.50 535.84,332.37 555.10,332.30 C574.36,332.23 598.48,332.13 608.10,332.10 C617.72,332.07 612.02,332.10 612.80,332.10 L612.80,462.00 L372.30,462.00 Z" fill="#00ff00"/>
<path d="M372.30,350.00 C373.08,350.00 367.38,349.92 377.00,350.00 C386.62,350.08 410.74,350.33 430.00,350.50 C449.26,350.67 471.70,351.00 492.55,351.00 C513.40,351.00 535.84,350.67 555.10,350.50 C574.36,350.33 598.48,350.08 608.10,350.00 C617.72,349.92 612.02,350.00 612.80,350.00 L612.80,462.00 L372.30,462.00 Z" fill="#80ff00"/>
<path d="M372.30,367.60 C373.08,367.60 367.38,367.53 377.00,367.60 C386.62,367.67 410.74,367.87 430.00,368.00 C449.26,368.13 471.70,368.40 492.55,368.40 C513.40,368.40 535.84,368.13 555.10,368.00 C574.36,367.87 598.48,367.67 608.10,367.60 C617.72,367.53 612.02,367.60 612.80,367.60 L612.80,462.00 L372.30,462.00 Z" fill="#ffff00"/>
<path d="M372.30,385.90 C373.08,385.90 367.38,385.93 377.00,385.90 C386.62,385.87 410.74,385.78 430.00,385.70 C449.26,385.62 471.70,385.40 492.55,385.40 C513.40,385.40 535.84,385.62 555.10,385.70 C574.36,385.78 598.48,385.87 608.10,385.90 C617.72,385.93 612.02,385.90 612.80,385.90 L612.80,462.00 L372.30,462.00 Z" fill="#ff8000"/>
<path d="M372.30,403.20 C373.08,403.20 367.38,403.22 377.00,403.20 C386.62,403.18 410.74,403.12 430.00,403.10 C449.26,403.08 471.70,403.10 492.55,403.10 C513.40,403.10 535.84,403.08 555.10,403.10 C574.36,403.12 598.48,403.18 608.10,403.20 C617.72,403.22 612.02,403.20 612.80,403.20 L612.80,462.00 L372.30,462.00 Z" fill="#ff4000"/>
<path d="M372.30,421.30 C373.08,421.30 367.38,421.47 377.00,421.30 C386.62,421.13 416.17,420.68 430.00,420.30 C443.83,419.92 449.57,419.35 460.00,419.00 C470.43,418.65 481.70,418.20 492.55,418.20 C503.40,418.20 514.68,418.65 525.10,419.00 C535.52,419.35 541.27,419.92 555.10,420.30 C568.93,420.68 598.48,421.13 608.10,421.30 C617.72,421.47 612.02,421.30 612.80,421.30 L612.80,462.00 L372.30,462.00 Z" fill="#ff0000"/>
<path d="M372.30,440.10 C373.08,440.10 367.38,440.28 377.00,440.10 C386.62,439.92 416.17,439.38 430.00,439.00 C443.83,438.62 449.57,438.17 460.00,437.80 C470.43,437.43 481.70,436.80 492.55,436.80 C503.40,436.80 514.68,437.43 525.10,437.80 C535.52,438.17 541.27,438.62 555.10,439.00 C568.93,439.38 598.48,439.92 608.10,440.10 C617.72,440.28 612.02,440.10 612.80,440.10 L612.80,462.00 L372.30,462.00 Z" fill="#aa0000"/>
</g>
<g>
<circle cx="477.55" cy="394.25" r="21.90" fill="#fff"/>
<circle cx="507.05" cy="394.25" r="21.90" fill="#fff"/>
<path d="M500.95,394.25 L497.21,397.92 L499.37,402.70 L494.55,404.78 L494.84,410.01 L489.60,410.21 L487.98,415.20 L483.02,413.49 L479.71,417.55 L475.70,414.16 L471.15,416.76 L468.64,412.15 L463.45,412.92 L462.77,407.72 L457.65,406.57 L458.90,401.47 L454.55,398.55 L457.55,394.25 L454.55,389.95 L458.90,387.03 L457.65,381.93 L462.77,380.78 L463.45,375.58 L468.64,376.35 L471.15,371.74 L475.70,374.34 L479.71,370.95 L483.02,375.01 L487.98,373.30 L489.60,378.29 L494.84,378.49 L494.55,383.72 L499.37,385.80 L497.21,390.58 L500.95,394.25" fill="none" stroke="#5e5e5e" stroke-width="0.8"/>
<path d="M497.55,394.25 L500.55,398.55 L496.20,401.47 L497.45,406.57 L492.33,407.72 L491.65,412.92 L486.46,412.15 L483.95,416.76 L479.40,414.16 L475.39,417.55 L472.08,413.49 L467.12,415.20 L465.50,410.21 L460.26,410.01 L460.55,404.78 L455.73,402.70 L457.89,397.92 L454.15,394.25 L457.89,390.58 L455.73,385.80 L460.55,383.72 L460.26,378.49 L465.50,378.29 L467.12,373.30 L472.08,375.01 L475.39,370.95 L479.40,374.34 L483.95,371.74 L486.46,376.35 L491.65,375.58 L492.33,380.78 L497.45,381.93 L496.20,387.03 L500.55,389.95 L497.55,394.25" fill="none" stroke="#5e5e5e" stroke-width="0.8"/>
<path d="M530.45,394.25 L526.71,397.92 L528.87,402.70 L524.05,404.78 L524.34,410.01 L519.10,410.21 L517.48,415.20 L512.52,413.49 L509.21,417.55 L505.20,414.16 L500.65,416.76 L498.14,412.15 L492.95,412.92 L492.27,407.72 L487.15,406.57 L488.40,401.47 L484.05,398.55 L487.05,394.25 L484.05,389.95 L488.40,387.03 L487.15,381.93 L492.27,380.78 L492.95,375.58 L498.14,376.35 L500.65,371.74 L505.20,374.34 L509.21,370.95 L512.52,375.01 L517.48,373.30 L519.10,378.29 L524.34,378.49 L524.05,383.72 L528.87,385.80 L526.71,390.58 L530.45,394.25" fill="none" stroke="#5e5e5e" stroke-width="0.8"/>
<path d="M527.05,394.25 L530.05,398.55 L525.70,401.47 L526.95,406.57 L521.83,407.72 L521.15,412.92 L515.96,412.15 L513.45,416.76 L508.90,414.16 L504.89,417.55 L501.58,413.49 L496.62,415.20 L495.00,410.21 L489.76,410.01 L490.05,404.78 L485.23,402.70 L487.39,397.92 L483.65,394.25 L487.39,390.58 L485.23,385.80 L490.05,383.72 L489.76,378.49 L495.00,378.29 L496.62,373.30 L501.58,375.01 L504.89,370.95 L508.90,374.34 L513.45,371.74 L515.96,376.35 L521.15,375.58 L521.83,380.78 L526.95,381.93 L525.70,387.03 L530.05,389.95 L527.05,394.25" fill="none" stroke="#5e5e5e" stroke-width="0.8"/>
<circle cx="477.55" cy="394.25" r="19.70" fill="#fff"/>
<circle cx="507.05" cy="394.25" r="19.70" fill="#fff"/>
<path d="M492.30,378.33 L494.70,382.31 L489.90,386.29 L494.70,390.27 L489.90,394.25 L494.70,398.23 L489.90,402.21 L494.70,406.19 L492.30,410.17" fill="none" stroke="#808080" stroke-width="0.6"/>
<path d="M492.30,378.33 L489.90,382.31 L494.70,386.29 L489.90,390.27 L494.70,394.25 L489.90,398.23 L494.70,402.21 L489.90,406.19 L492.30,410.17" fill="none" stroke="#808080" stroke-width="0.6"/>
</g>
<path d="M377.00,281.96 L370.00,277.96 L370.00,285.96 Z M608.10,281.96 L615.10,277.96 L615.10,285.96 Z M377.00,303.21 L370.00,299.21 L370.00,307.21 Z M608.10,303.21 L615.10,299.21 L615.10,307.21 Z M377.00,324.47 L370.00,320.47 L370.00,328.47 Z M608.10,324.47 L615.10,320.47 L615.10,328.47 Z M377.00,345.72 L370.00,341.72 L370.00,349.72 Z M608.10,345.72 L615.10,341.72 L615.10,349.72 Z M377.00,366.98 L370.00,362.98 L370.00,370.98 Z M608.10,366.98 L615.10,362.98 L615.10,370.98 Z M377.00,388.23 L370.00,384.23 L370.00,392.23 Z M608.10,388.23 L615.10,384.23 L615.10,392.23 Z M377.00,409.49 L370.00,405.49 L370.00,413.49 Z M608.10,409.49 L615.10,405.49 L615.10,413.49 Z M377.00,430.74 L370.00,426.74 L370.00,434.74 Z M608.10,430.74 L615.10,426.74 L615.10,434.74 Z M394.45,459.50 L398.25,452.40 M398.25,452.40 L402.05,459.50 M415.41,459.50 L419.21,452.40 M419.21,452.40 L423.01,459.50 M436.36,459.50 L440.16,452.40 M440.16,452.40 L443.96,459.50 M457.32,459.50 L461.12,452.40 M461.12,452.40 L464.92,459.50 M478.27,459.50 L482.07,452.40 M482.07,452.40 L485.87,459.50 M499.23,459.50 L503.03,452.40 M503.03,452.40 L506.83,459.50 M520.18,459.50 L523.98,452.40 M523.98,452.40 L527.78,459.50 M541.14,459.50 L544.94,452.40 M544.94,452.40 L548.74,459.50 M562.09,459.50 L565.89,452.40 M565.89,452.40 L569.69,459.50 M583.05,459.50 L586.85,452.40 M586.85,452.40 L590.65,459.50" fill="#fff" stroke="#5a5a5a" stroke-width="0.8"/>
<path d="M367.50,278.16 L367.50,285.76 M617.60,278.16 L617.60,285.76 M367.50,299.41 L367.50,307.01 M617.60,299.41 L617.60,307.01 M367.50,320.67 L367.50,328.27 M617.60,320.67 L617.60,328.27 M367.50,341.92 L367.50,349.52 M617.60,341.92 L617.60,349.52 M367.50,363.18 L367.50,370.78 M617.60,363.18 L617.60,370.78 M367.50,384.43 L367.50,392.03 M617.60,384.43 L617.60,392.03 M367.50,405.69 L367.50,413.29 M617.60,405.69 L617.60,413.29 M367.50,426.94 L367.50,434.54 M617.60,426.94 L617.60,434.54 M394.45,459.90 L402.05,459.90 M415.41,459.90 L423.01,459.90 M436.36,459.90 L443.96,459.90 M457.32,459.90 L464.92,459.90 M478.27,459.90 L485.87,459.90 M499.23,459.90 L506.83,459.90 M520.18,459.90 L527.78,459.90 M541.14,459.90 L548.74,459.90 M562.09,459.90 L569.69,459.90 M583.05,459.90 L590.65,459.90" fill="none" stroke="#a0a0a0" stroke-width="0.85"/>
<path d="M377.30,254.30 L377.30,258.30 M377.30,453.00 L377.30,457.00 M377.30,462.50 L377.30,464.50 M607.80,254.30 L607.80,258.30 M607.80,453.00 L607.80,457.00 M607.80,462.50 L607.80,464.50" fill="none" stroke="#999999" stroke-width="0.8"/>
<rect x="629.20" y="256.10" width="33.60" height="8.10" fill="#0000ff"/>
<rect x="629.20" y="264.20" width="33.60" height="9.10" fill="#0000aa"/>
<rect x="629.20" y="273.30" width="33.60" height="9.50" fill="#005a5a"/>
<rect x="629.20" y="282.80" width="33.60" height="8.90" fill="#00aa00"/>
<rect x="629.20" y="291.70" width="33.60" height="8.70" fill="#00ff00"/>
<rect x="629.20" y="300.40" width="33.60" height="9.10" fill="#80ff00"/>
<rect x="629.20" y="309.50" width="33.60" height="9.50" fill="#ffff00"/>
<rect x="629.20" y="319.00" width="33.60" height="8.50" fill="#ff8000"/>
<rect x="629.20" y="327.50" width="33.60" height="8.70" fill="#ff4000"/>
<rect x="629.20" y="336.20" width="33.60" height="9.10" fill="#ff0000"/>
<rect x="629.20" y="345.30" width="33.60" height="9.00" fill="#aa0000"/>
<path d="M629.20,264.20 L662.80,264.20 M629.20,273.30 L662.80,273.30 M629.20,282.80 L662.80,282.80 M629.20,291.70 L662.80,291.70 M629.20,300.40 L662.80,300.40 M629.20,309.50 L662.80,309.50 M629.20,319.00 L662.80,319.00 M629.20,327.50 L662.80,327.50 M629.20,336.20 L662.80,336.20 M629.20,345.30 L662.80,345.30" stroke="#ffffff" stroke-opacity="0.5" stroke-width="0.9"/>
<text x="681.20" y="258.60" text-anchor="end" class="lb" style="font-size:6.10px">0.00</text>
<text x="681.20" y="266.70" text-anchor="end" class="lb" style="font-size:6.10px">1.50</text>
<text x="681.20" y="275.80" text-anchor="end" class="lb" style="font-size:6.10px">3.00</text>
<text x="681.20" y="285.30" text-anchor="end" class="lb" style="font-size:6.10px">4.50</text>
<text x="681.20" y="294.20" text-anchor="end" class="lb" style="font-size:6.10px">6.00</text>
<text x="681.20" y="302.90" text-anchor="end" class="lb" style="font-size:6.10px">7.50</text>
<text x="681.20" y="312.00" text-anchor="end" class="lb" style="font-size:6.10px">9.00</text>
<text x="681.20" y="321.50" text-anchor="end" class="lb" style="font-size:6.10px">10.50</text>
<text x="681.20" y="330.00" text-anchor="end" class="lb" style="font-size:6.10px">12.00</text>
<text x="681.20" y="338.70" text-anchor="end" class="lb" style="font-size:6.10px">13.50</text>
<text x="681.20" y="347.80" text-anchor="end" class="lb" style="font-size:6.10px">15.00</text>
<text x="681.20" y="356.80" text-anchor="end" class="lb" style="font-size:6.10px">16.24</text>
<path d="M377.30,451.60 L607.80,451.60" stroke="#400000" stroke-width="0.8" stroke-opacity="0.35"/>
<path d="M377.30,261.10 L607.80,261.10" stroke="#000050" stroke-width="0.8" stroke-opacity="0.6"/>
<path d="M377.30,260.70 L377.30,452.00 M607.80,260.70 L607.80,452.00" stroke="#9a9a9a" stroke-width="0.8" stroke-opacity="0.8"/>
<text x="501.50" y="495.30" text-anchor="middle" class="cap">(d)</text>
</svg>
</body></html>
